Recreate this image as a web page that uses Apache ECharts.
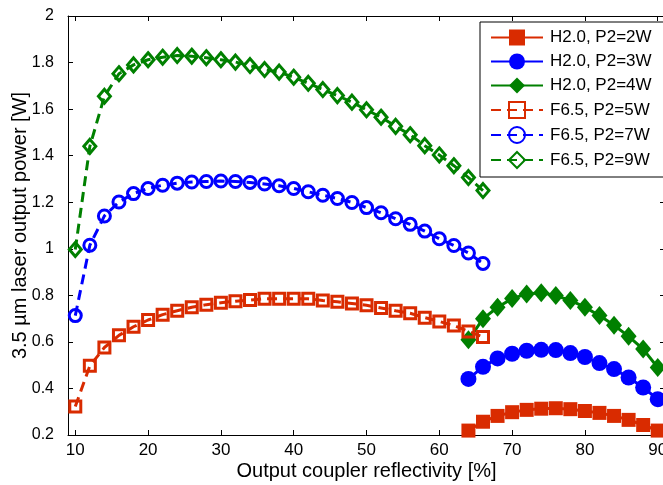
<!DOCTYPE html>
<html>
<head>
<meta charset="utf-8">
<script src="https://cdn.jsdelivr.net/npm/echarts@6/dist/echarts.min.js"></script>
<style>
  html, body { margin: 0; padding: 0; background: #fff; }
  #chart { width: 663px; height: 485px; }
</style>
</head>
<body>
<div id="chart"></div>
<script>
// Output coupler reflectivity [%]
const xF65 = [10, 12, 14, 16, 18, 20, 22, 24, 26, 28, 30, 32, 34, 36, 38, 40, 42, 44, 46, 48, 50, 52, 54, 56, 58, 60, 62, 64, 66];
const xH20 = [64, 66, 68, 70, 72, 74, 76, 78, 80, 82, 84, 86, 88, 90];

// 3.5 um output power [W]
const h20_2W = [0.219, 0.257, 0.282, 0.298, 0.308, 0.313, 0.315, 0.311, 0.303, 0.295, 0.282, 0.265, 0.243, 0.219];
const h20_3W = [0.441, 0.493, 0.529, 0.549, 0.562, 0.566, 0.565, 0.552, 0.535, 0.509, 0.483, 0.447, 0.404, 0.354];
const h20_4W = [0.609, 0.699, 0.749, 0.786, 0.806, 0.811, 0.799, 0.778, 0.749, 0.713, 0.671, 0.624, 0.569, 0.490];
const f65_5W = [0.322, 0.497, 0.576, 0.628, 0.665, 0.694, 0.717, 0.734, 0.749, 0.760, 0.768, 0.775, 0.780, 0.785, 0.785,
                0.785, 0.785, 0.778, 0.772, 0.765, 0.757, 0.746, 0.734, 0.723, 0.704, 0.688, 0.670, 0.645, 0.621];
const f65_7W = [0.713, 1.015, 1.141, 1.201, 1.237, 1.259, 1.273, 1.282, 1.287, 1.289, 1.291, 1.289, 1.285, 1.278, 1.271,
                1.259, 1.245, 1.230, 1.216, 1.199, 1.177, 1.155, 1.129, 1.105, 1.076, 1.043, 1.014, 0.982, 0.937];
const f65_9W = [0.997, 1.440, 1.655, 1.752, 1.790, 1.812, 1.823, 1.830, 1.827, 1.821, 1.812, 1.802, 1.787, 1.770, 1.759,
                1.737, 1.711, 1.684, 1.658, 1.630, 1.597, 1.565, 1.526, 1.490, 1.443, 1.403, 1.357, 1.306, 1.250];

const xTicks = [10, 20, 30, 40, 50, 60, 70, 80, 90];
const yTicks = [0.2, 0.4, 0.6, 0.8, 1, 1.2, 1.4, 1.6, 1.8, 2];

const seriesNames = ['H2.0, P2=2W', 'H2.0, P2=3W', 'H2.0, P2=4W', 'F6.5, P2=5W', 'F6.5, P2=7W', 'F6.5, P2=9W'];

const RED = '#d92b00', BLUE = '#0000ff', GREEN = '#008000';
const FONT = "'Liberation Sans', Arial, Helvetica, sans-serif";

function pairs(xs, ys) { return xs.map((x, i) => [x, ys[i]]); }

function solid(name, xs, ys, color, symbol, size) {
  return {
    name, type: 'line', data: pairs(xs, ys),
    symbol, symbolSize: size,
    itemStyle: { color },
    lineStyle: { color, width: 3 },
    emphasis: { disabled: true }
  };
}
function hollow(name, xs, ys, color, symbol, size) {
  return {
    name, type: 'line', data: pairs(xs, ys),
    symbol, symbolSize: size,
    itemStyle: { color: 'rgba(255,255,255,0)', borderColor: color, borderWidth: 3 },
    lineStyle: { color, width: 3, type: [10, 6] },
    emphasis: { disabled: true }
  };
}

const tickStyle = { inside: true, length: 5, lineStyle: { color: '#000', width: 1 } };
const lineAxis = { show: true, lineStyle: { color: '#000', width: 1 } };
const fmt = v => String(Math.round(v * 10) / 10);

const chart = echarts.init(document.getElementById('chart'), null, { renderer: 'canvas' });
chart.setOption({
  animation: false,
  backgroundColor: '#fff',
  textStyle: { fontFamily: FONT },
  grid: { left: 68, right: -2, top: 16, bottom: 50, containLabel: false, outerBoundsMode: 'none' },
  xAxis: [{
    type: 'value', min: 9, max: 91, position: 'bottom',
    name: 'Output coupler reflectivity [%]', nameLocation: 'middle', nameGap: 26,
    nameMoveOverlap: false,
    nameTextStyle: { fontSize: 20, color: '#000', fontFamily: FONT },
    axisLine: lineAxis,
    axisTick: Object.assign({ customValues: xTicks }, tickStyle),
    axisLabel: { customValues: xTicks, fontSize: 17, color: '#000', margin: 7, fontFamily: FONT },
    splitLine: { show: false }
  }, {
    type: 'value', min: 9, max: 91, position: 'top',
    axisLine: lineAxis,
    axisTick: Object.assign({ customValues: xTicks }, tickStyle),
    axisLabel: { show: false },
    splitLine: { show: false }
  }],
  yAxis: [{
    type: 'value', min: 0.2, max: 2, position: 'left',
    name: '3.5 µm laser output power [W]', nameLocation: 'middle', nameGap: 38,
    nameMoveOverlap: false,
    nameTextStyle: { fontSize: 20, color: '#000', fontFamily: FONT },
    axisLine: lineAxis,
    axisTick: Object.assign({ customValues: yTicks }, tickStyle),
    axisLabel: { customValues: yTicks, formatter: fmt, fontSize: 16, color: '#000', margin: 14, fontFamily: FONT },
    splitLine: { show: false }
  }, {
    type: 'value', min: 0.2, max: 2, position: 'right',
    axisLine: lineAxis,
    axisTick: Object.assign({ customValues: yTicks }, tickStyle),
    axisLabel: { show: false },
    splitLine: { show: false }
  }],
  legend: {
    orient: 'vertical', left: 480, top: 22,
    padding: [7, 12, 8, 10], itemGap: 7, itemWidth: 52, itemHeight: 20,
    borderColor: '#000', borderWidth: 1, backgroundColor: '#fff',
    textStyle: { fontFamily: FONT, fontSize: 17, color: '#000', padding: [0, 0, 0, 2] },
    data: seriesNames
  },
  series: [
    solid(seriesNames[0], xH20, h20_2W, RED, 'rect', 14),
    solid(seriesNames[1], xH20, h20_3W, BLUE, 'circle', 16),
    solid(seriesNames[2], xH20, h20_4W, GREEN, 'diamond', [16, 19]),
    hollow(seriesNames[3], xF65, f65_5W, RED, 'rect', 11),
    hollow(seriesNames[4], xF65, f65_7W, BLUE, 'circle', 12),
    hollow(seriesNames[5], xF65, f65_9W, GREEN, 'diamond', [12, 14])
  ]
});
</script>
</body>
</html>
